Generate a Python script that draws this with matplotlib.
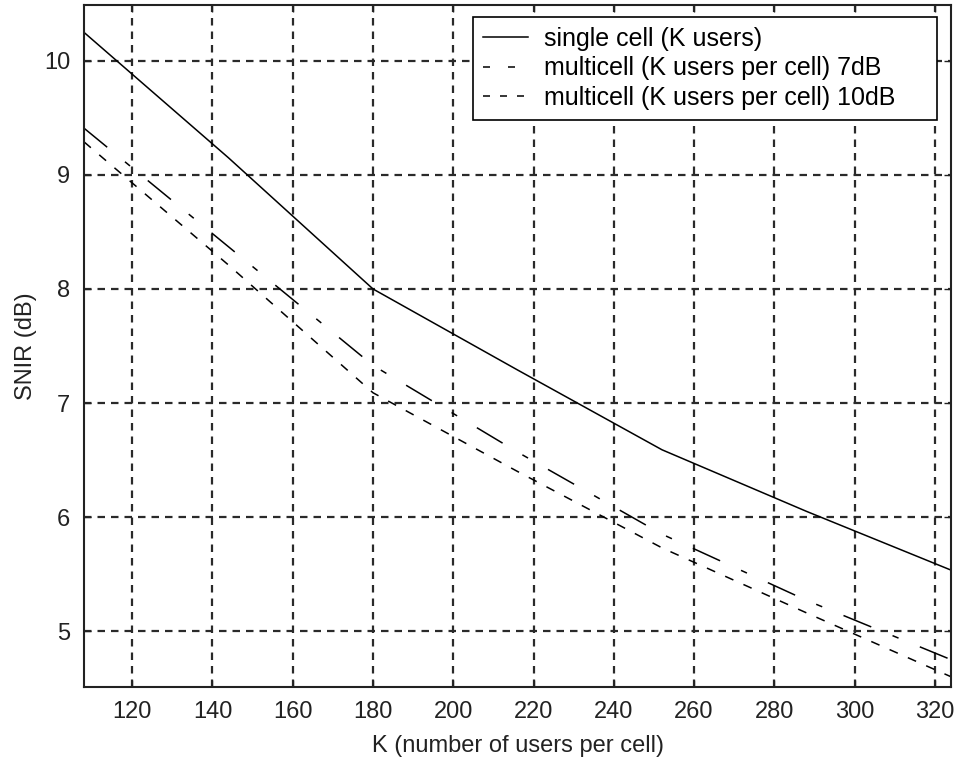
import matplotlib
matplotlib.use("Agg")
import matplotlib.pyplot as plt
from matplotlib.lines import Line2D

plt.rcParams['font.family'] = ['Liberation Sans', 'DejaVu Sans']
plt.rcParams['lines.scale_dashes'] = False

# Data
K = [108, 144, 180, 216, 252, 288, 324]
single_cell = [10.25, 9.15, 8.00, 7.29, 6.59, 6.05, 5.535]
multi_7dB = [9.41, 8.37, 7.33, 6.57, 5.85, 5.27, 4.75]
multi_10dB = [9.29, 8.21, 7.09, 6.40, 5.73, 5.16, 4.60]

labels = ["single cell (K users)",
          "multicell (K users per cell) 7dB",
          "multicell (K users per cell) 10dB"]
xticks = [120, 140, 160, 180, 200, 220, 240, 260, 280, 300, 320]
yticks = [5, 6, 7, 8, 9, 10]

px = 0.72  # pixels -> points at 100 dpi

fig = plt.figure(figsize=(9.57, 7.65), dpi=100)
ax = fig.add_axes([84/957, 1 - 687/765, (951-84)/957, (687-5)/765])

ax.plot(K, single_cell, color='black', lw=1.1, solid_joinstyle='miter')
ax.plot(K, multi_7dB, color='black', lw=1.1,
        dashes=(30*px, 23*px, 6.5*px, 23*px))
ax.plot(K, multi_10dB, color='black', lw=1.1,
        dashes=(9*px, 11*px))

ax.set_xlim(108, 324)
ax.set_ylim(4.51, 10.49)
ax.set_xticks(xticks)
ax.set_yticks(yticks)

ax.grid(True, color='#2a2a2a', lw=1.6, dashes=(7.5*px, 6*px))
ax.set_axisbelow(True)

for s in ax.spines.values():
    s.set_linewidth(1.5)
    s.set_color('#222222')

ax.tick_params(direction='in', length=5, width=1, top=True, right=True,
               labelsize=17, pad=10, colors='#222222')

ax.set_xlabel("K (number of users per cell)", fontsize=17, labelpad=9, color='#222222')
ax.set_ylabel("SNIR (dB)", fontsize=17, labelpad=5, color='#222222')

handles = [
    Line2D([], [], color='black', lw=1.1),
    Line2D([], [], color='black', lw=1.1, dashes=(7*px, 18*px)),
    Line2D([], [], color='black', lw=1.1, dashes=(7*px, 10*px)),
]
leg = ax.legend(handles, labels, loc='upper left', fontsize=18,
                frameon=True, fancybox=False, framealpha=1,
                edgecolor='black', borderpad=0.4, handlelength=1.8,
                handletextpad=0.62, labelspacing=0.21, borderaxespad=0,
                mode='expand',
                bbox_to_anchor=(473/957, 1 - 117/765, (937-473)/957, 100/765),
                bbox_transform=fig.transFigure)
leg.get_frame().set_linewidth(1.2)
leg.set_zorder(5)

fig.savefig("out.png", dpi=100, facecolor='white')
